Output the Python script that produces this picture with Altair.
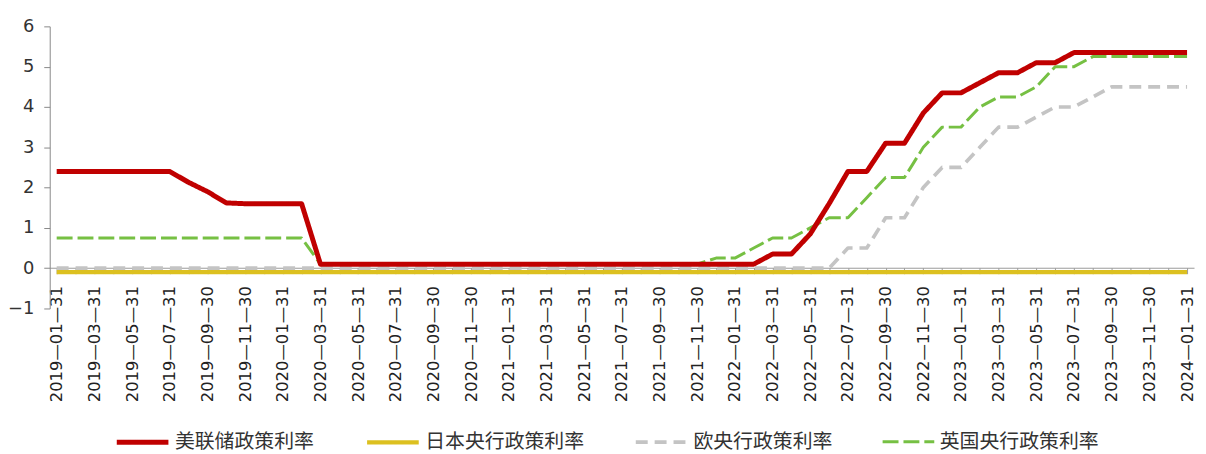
import altair as alt
import pandas as pd

dates = [
    "2019-01-31", "2019-02-28", "2019-03-31", "2019-04-30", "2019-05-31", "2019-06-30",
    "2019-07-31", "2019-08-31", "2019-09-30", "2019-10-31", "2019-11-30", "2019-12-31",
    "2020-01-31", "2020-02-29", "2020-03-31", "2020-04-30", "2020-05-31", "2020-06-30",
    "2020-07-31", "2020-08-31", "2020-09-30", "2020-10-31", "2020-11-30", "2020-12-31",
    "2021-01-31", "2021-02-28", "2021-03-31", "2021-04-30", "2021-05-31", "2021-06-30",
    "2021-07-31", "2021-08-31", "2021-09-30", "2021-10-31", "2021-11-30", "2021-12-31",
    "2022-01-31", "2022-02-28", "2022-03-31", "2022-04-30", "2022-05-31", "2022-06-30",
    "2022-07-31", "2022-08-31", "2022-09-30", "2022-10-31", "2022-11-30", "2022-12-31",
    "2023-01-31", "2023-02-28", "2023-03-31", "2023-04-30", "2023-05-31", "2023-06-30",
    "2023-07-31", "2023-08-31", "2023-09-30", "2023-10-31", "2023-11-30", "2023-12-31",
    "2024-01-31",
]

fed = [
    2.4, 2.4, 2.4, 2.4, 2.4, 2.4, 2.4, 2.13, 1.9, 1.62, 1.6, 1.6,
    1.6, 1.6, 0.1, 0.1, 0.1, 0.1, 0.1, 0.1, 0.1, 0.1, 0.1, 0.1,
    0.1, 0.1, 0.1, 0.1, 0.1, 0.1, 0.1, 0.1, 0.1, 0.1, 0.1, 0.1,
    0.1, 0.1, 0.35, 0.35, 0.85, 1.6, 2.4, 2.4, 3.1, 3.1, 3.85, 4.35,
    4.35, 4.6, 4.85, 4.85, 5.1, 5.1, 5.35, 5.35, 5.35, 5.35, 5.35, 5.35,
    5.35,
]

boj = [
    -0.1, -0.1, -0.1, -0.1, -0.1, -0.1, -0.1, -0.1, -0.1, -0.1, -0.1, -0.1,
    -0.1, -0.1, -0.1, -0.1, -0.1, -0.1, -0.1, -0.1, -0.1, -0.1, -0.1, -0.1,
    -0.1, -0.1, -0.1, -0.1, -0.1, -0.1, -0.1, -0.1, -0.1, -0.1, -0.1, -0.1,
    -0.1, -0.1, -0.1, -0.1, -0.1, -0.1, -0.1, -0.1, -0.1, -0.1, -0.1, -0.1,
    -0.1, -0.1, -0.1, -0.1, -0.1, -0.1, -0.1, -0.1, -0.1, -0.1, -0.1, -0.1,
    -0.1,
]

ecb = [
    0, 0, 0, 0, 0, 0, 0, 0, 0, 0, 0, 0,
    0, 0, 0, 0, 0, 0, 0, 0, 0, 0, 0, 0,
    0, 0, 0, 0, 0, 0, 0, 0, 0, 0, 0, 0,
    0, 0, 0, 0, 0, 0, 0.5, 0.5, 1.25, 1.25, 2.0, 2.5,
    2.5, 3.0, 3.5, 3.5, 3.75, 4.0, 4.0, 4.25, 4.5, 4.5, 4.5, 4.5,
    4.5,
]

boe = [
    0.75, 0.75, 0.75, 0.75, 0.75, 0.75, 0.75, 0.75, 0.75, 0.75, 0.75, 0.75,
    0.75, 0.75, 0.1, 0.1, 0.1, 0.1, 0.1, 0.1, 0.1, 0.1, 0.1, 0.1,
    0.1, 0.1, 0.1, 0.1, 0.1, 0.1, 0.1, 0.1, 0.1, 0.1, 0.1, 0.25,
    0.25, 0.5, 0.75, 0.75, 1.0, 1.25, 1.25, 1.75, 2.25, 2.25, 3.0, 3.5,
    3.5, 4.0, 4.25, 4.25, 4.5, 5.0, 5.0, 5.25, 5.25, 5.25, 5.25, 5.25,
    5.25,
]

names = ["美联储政策利率", "日本央行政策利率", "欧央行政策利率", "英国央行政策利率"]
series_values = [fed, boj, ecb, boe]
colors = ["#c00000", "#dcc020", "#c4c4c4", "#76c043"]
dashes = [[1, 0], [1, 0], [12, 7], [16, 5]]
widths = [5, 3, 3, 4]

rows = []
for name, vals in zip(names, series_values):
    for d, v in zip(dates, vals):
        rows.append({"date": d, "value": v, "series": name})
df = pd.DataFrame(rows)

legend = alt.Legend(
    title=None,
    orient="none",
    legendX=65,
    legendY=390,
    direction="horizontal",
    symbolType="stroke",
    symbolSize=2704,
    labelFont="Noto Sans CJK SC",
    labelFontSize=20,
    labelColor="#333333",
    labelLimit=400,
    columnPadding=44,
    labelOffset=4,
)

x_enc = alt.X(
    "date:O",
    sort=dates,
    scale=alt.Scale(type="point", padding=0.37),
    axis=alt.Axis(
        title=None,
        labelAngle=270,
        offset=-41,
        labelOverlap=False,
        labelExpr="toNumber(substring(datum.label,5,7)) % 2 == 1 ? substring(datum.label,0,4) + '\u2014' + substring(datum.label,5,7) + '\u2014' + substring(datum.label,8,10) : ''",
        tickSize=6,
        labelPadding=12,
        labelFont="DejaVu Sans",
        labelFontSize=16.5,
        labelColor="#222222",
        domainColor="#999999",
        tickColor="#999999",
    ),
)

y_enc = alt.Y(
    "value:Q",
    scale=alt.Scale(domain=[-1, 6], nice=False, zero=False),
    axis=alt.Axis(
        title=None,
        values=[-1, 0, 1, 2, 3, 4, 5, 6],
        grid=False,
        tickSize=6,
        labelPadding=10,
        labelFont="DejaVu Sans",
        labelFontSize=18,
        labelColor="#333333",
        domainColor="#888888",
        tickColor="#888888",
    ),
)

color_enc = alt.Color("series:N", scale=alt.Scale(domain=names, range=colors), legend=legend)
dash_enc = alt.StrokeDash("series:N", scale=alt.Scale(domain=names, range=dashes), legend=legend)
width_enc = alt.StrokeWidth("series:N", scale=alt.Scale(domain=names, range=widths), legend=legend)

draw_order = ["日本央行政策利率", "欧央行政策利率", "英国央行政策利率", "美联储政策利率"]
layers = []
for nm in draw_order:
    layers.append(
        alt.Chart(df)
        .transform_filter(alt.datum.series == nm)
        .mark_line(strokeJoin="round")
        .encode(x=x_enc, y=y_enc, color=color_enc, strokeDash=dash_enc, strokeWidth=width_enc)
    )

chart = (
    alt.layer(*layers)
    .properties(
        width=1152,
        height=284,
        autosize=alt.AutoSizeParams(type="none"),
        padding={"left": 42, "top": 17, "right": 4, "bottom": 145},
        background="white",
    )
    .configure_view(stroke=None)
)

chart.save("out.html", embed_options={"renderer": "svg", "actions": False})
